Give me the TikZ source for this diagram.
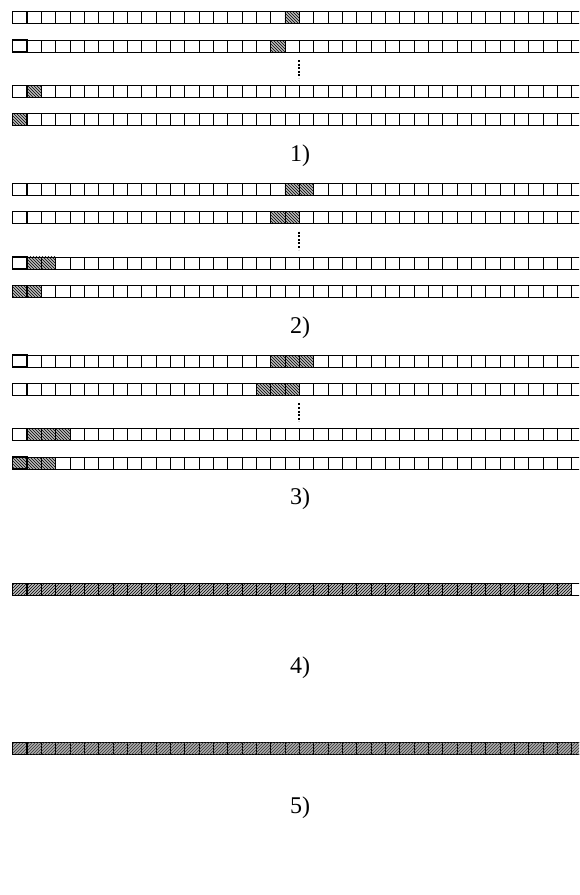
\documentclass[tikz,border=0pt]{standalone}
\usepackage{fontspec}
\setmainfont{Liberation Serif}
\usetikzlibrary{patterns}
\tikzset{
  cellbox/.style={draw=black, line width=0.7pt},
  firstcell/.style={draw=black, line width=1.4pt},
  hatchA/.style={fill=gray!55, postaction={pattern=north west lines, pattern color=black}},
  hatchB/.style={fill=gray!50, postaction={pattern=north east lines, pattern color=black}},
  hatchC/.style={fill=gray!65, postaction={pattern=north east lines, pattern color=black!80}},
  dotsline/.style={draw=black, line width=2pt, dash pattern=on 2pt off 1.6pt},
  lab/.style={font=\fontsize{24}{28}\selectfont, inner sep=0pt}
}
\newcommand{\cw}{14.33}
\newcommand{\ch}{12}
\newcommand{\xo}{12.7}
% #1 top y, #2 list of hatched indices
\newcommand{\gridrow}[2]{%
  \foreach \i in {0,...,39} {\draw[cellbox] ({\xo+\i*\cw},#1) rectangle ++(\cw,\ch);}
  \foreach \i in {#2} {\draw[cellbox, hatchA] ({\xo+\i*\cw},#1) rectangle ++(\cw,\ch);}
  \draw[firstcell] (\xo,#1) rectangle ++(\cw,\ch);
}
% #1 top y, #2 last hatched index, #3 style
\newcommand{\fullrow}[3]{%
  \foreach \i in {0,...,39} {\draw[cellbox] ({\xo+\i*\cw},#1) rectangle ++(\cw,\ch);}
  \foreach \i in {0,...,#2} {\draw[cellbox, #3] ({\xo+\i*\cw},#1) rectangle ++(\cw,\ch);}
  \draw[firstcell] (\xo,#1) rectangle ++(\cw,\ch);
}
\begin{document}
\begin{tikzpicture}[x=1pt,y=-1pt]
\useasboundingbox (0,0) rectangle (579,895);
\clip (0,0) rectangle (579,895);
% section 1
\gridrow{11.7}{19}
\gridrow{40.1}{18}
\gridrow{85.3}{1}
\gridrow{113.7}{0}
\coordinate (d1a) at (299.3,60);
\coordinate (d1b) at (299.3,78);
\draw[dotsline] (d1a) -- (d1b);
\node[lab] (lab1) at (300,156) {1)};
% section 2
\gridrow{183.3}{19,20}
\gridrow{211.7}{18,19}
\gridrow{256.9}{1,2}
\gridrow{285.3}{0,1}
\coordinate (d2a) at (299.3,231.6);
\coordinate (d2b) at (299.3,249.6);
\draw[dotsline] (d2a) -- (d2b);
\node[lab] (lab2) at (300,327.5) {2)};
% section 3
\gridrow{355}{18,19,20}
\gridrow{383.4}{17,18,19}
\gridrow{428.6}{1,2,3}
\gridrow{457}{0,1,2}
\coordinate (d3a) at (299.3,403.3);
\coordinate (d3b) at (299.3,421.3);
\draw[dotsline] (d3a) -- (d3b);
\node[lab] (lab3) at (300,499) {3)};
% section 4
\fullrow{583.3}{38}{hatchB}
\node[lab] (lab4) at (300,668) {4)};
% section 5
\fullrow{742.3}{39}{hatchC}
\node[lab] (lab5) at (300,808) {5)};
\end{tikzpicture}
\end{document}
